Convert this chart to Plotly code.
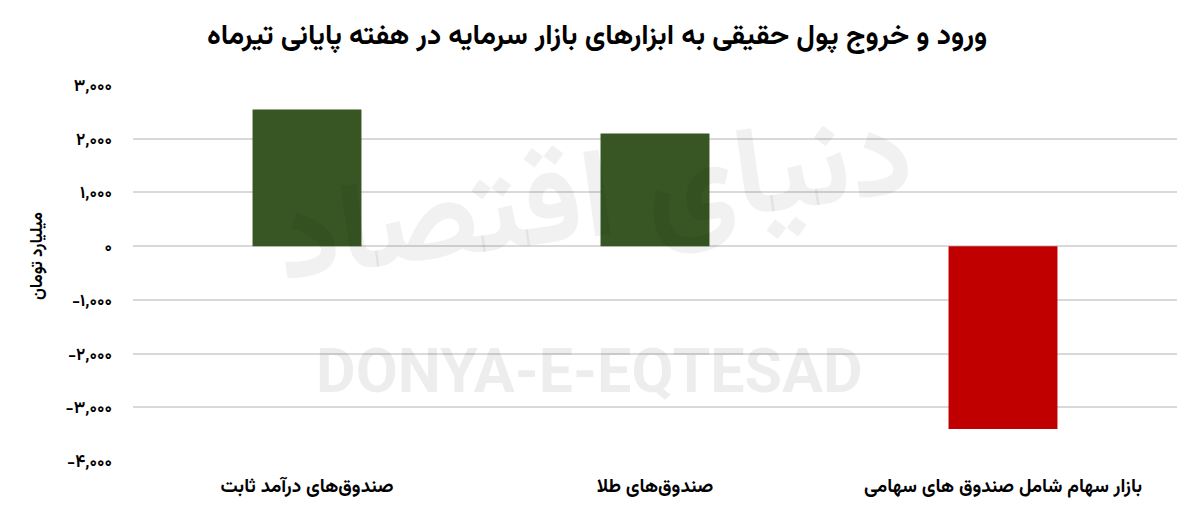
import plotly.graph_objects as go

categories = ["صندوق‌های درآمد ثابت", "صندوق‌های طلا", "بازار سهام شامل صندوق های سهامی"]
values = [2545, 2095, -3405]
bar_colors = ["#375623", "#375623", "#C00000"]
tick_vals = [3000, 2000, 1000, 0, -1000, -2000, -3000, -4000]
tick_text = ["۳,۰۰۰", "۲,۰۰۰", "۱,۰۰۰", "۰", "-۱,۰۰۰", "-۲,۰۰۰", "-۳,۰۰۰", "-۴,۰۰۰"]
title_text = "ورود و خروج پول حقیقی به ابزارهای بازار سرمایه در هفته پایانی تیرماه"
y_title = "میلیارد تومان"

FONT = "Vazirmatn, 'Noto Sans Arabic', 'DejaVu Sans', sans-serif"
W, H = 1200, 515
OFF = 8  # page body margin offset
# target plot area in page coordinates: x 133..1177, y 85..461
ML = 133 - OFF
MT = 85 - OFF
MR = W - (1177 - OFF)
MB = H - (461 - OFF)
PW, PH = W - ML - MR, H - MT - MB


def px(xp):
    return (xp - OFF - ML) / PW


def py(yp):
    return (H - MB - (yp - OFF)) / PH


fig = go.Figure()
fig.add_trace(go.Bar(
    x=categories, y=values, marker=dict(color=bar_colors, line=dict(width=0)),
    hoverinfo="x+y",
))

fig.update_layout(
    width=W, height=H,
    margin=dict(l=ML, r=MR, t=MT, b=MB),
    paper_bgcolor="white", plot_bgcolor="white",
    bargap=0.687,
    showlegend=False,
    font=dict(family=FONT, color="#000000"),
    xaxis=dict(
        showgrid=False, zeroline=False, showline=False, ticks="",
        tickfont=dict(size=19, family=FONT, color="#000", weight="bold"),
        ticklabelstandoff=11,
    ),
    yaxis=dict(
        range=[-4000, 3000], tickvals=tick_vals, ticktext=tick_text,
        showgrid=True, gridcolor="#d9d9d9", gridwidth=1.5,
        zeroline=True, zerolinecolor="#d9d9d9", zerolinewidth=1.5,
        showline=False, ticks="",
        tickfont=dict(size=17, family=FONT, color="#000", weight="bold"),
        ticklabelstandoff=20,
    ),
)

# Title
fig.add_annotation(
    text=title_text, xref="paper", yref="paper",
    x=px(597), y=py(37), xanchor="center", yanchor="middle",
    showarrow=False, font=dict(size=28.5, family=FONT, color="#000", weight="bold"),
)
# Y axis title
fig.add_annotation(
    text=y_title, xref="paper", yref="paper",
    x=px(38), y=py(256), xanchor="center", yanchor="middle",
    textangle=-90, showarrow=False,
    font=dict(size=17, family=FONT, color="#000", weight="bold"),
)
# Watermarks
fig.add_annotation(
    text="DONYA-E-EQTESAD", xref="paper", yref="paper",
    x=px(589), y=py(371), xanchor="center", yanchor="middle",
    showarrow=False,
    font=dict(size=61, family="Roboto, 'DejaVu Sans', sans-serif", color="rgba(0,0,0,0.07)", weight="bold"),
)
fig.add_annotation(
    text="دنیای اقتصاد", xref="paper", yref="paper",
    x=px(595), y=py(205), xanchor="center", yanchor="middle",
    textangle=-8, showarrow=False,
    font=dict(size=125, family=FONT, color="rgba(0,0,0,0.055)", weight="bold"),
)

fig.write_html("out.html")
